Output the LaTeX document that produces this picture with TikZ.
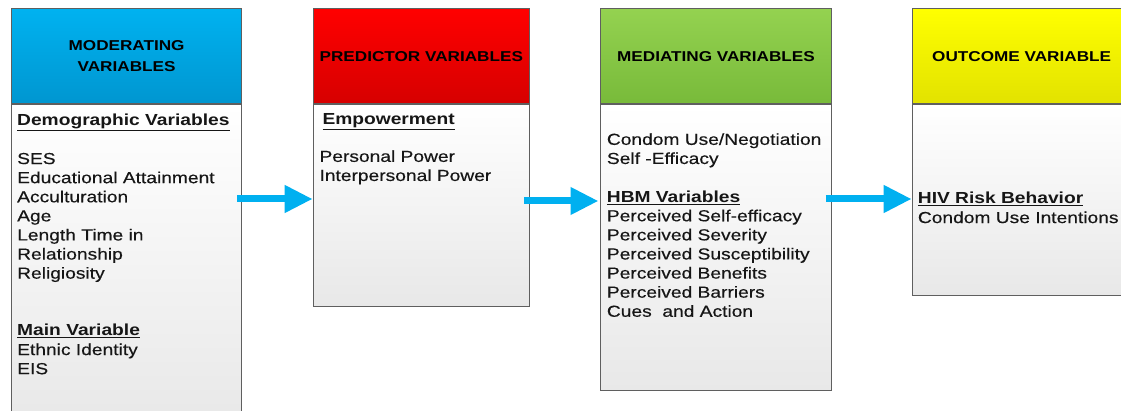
\documentclass[tikz,border=0pt]{standalone}
\usepackage{fontspec}
\setmainfont{Liberation Sans}[FakeStretch=1.2, UprightFeatures={FakeBold=0.35}]
\usetikzlibrary{arrows.meta,calc}
\definecolor{bluetop}{RGB}{0,178,240}
\definecolor{bluebot}{RGB}{0,150,208}
\definecolor{redtop}{RGB}{255,0,0}
\definecolor{redbot}{RGB}{214,0,0}
\definecolor{greentop}{RGB}{148,210,80}
\definecolor{greenbot}{RGB}{120,186,58}
\definecolor{yellowtop}{RGB}{255,255,0}
\definecolor{yellowbot}{RGB}{226,226,0}
\definecolor{bodybot}{RGB}{232,232,232}
\definecolor{bordergray}{RGB}{95,95,95}
\definecolor{arrowblue}{RGB}{0,176,240}
\definecolor{textdark}{RGB}{22,22,22}
\begin{document}
\begin{tikzpicture}[x=1pt,y=-1pt,
  hdr/.style={draw=bordergray, line width=1.2pt, anchor=north west, inner sep=0pt,
    font=\bfseries\fontsize{14.3}{21}\selectfont, align=center, text=black},
  body/.style={draw=bordergray, line width=1.2pt, anchor=north west, inner sep=0pt,
    top color=white, bottom color=bodybot},
  txt/.style={anchor=north west, inner sep=0pt, align=left,
    font=\fontsize{16}{19.1}\selectfont, text=textdark},
  flow/.style={line width=7pt, draw=arrowblue, line cap=butt,
    -{Triangle[length=28pt,width=26pt]}}]
\useasboundingbox (0,0) rectangle (1121,411);
% box 1
\node[body, minimum width=230pt, minimum height=320pt] (b1) at (11,103.5) {};
\node[hdr, top color=bluetop, bottom color=bluebot, minimum width=230pt, minimum height=95.5pt] (h1) at (11,8) {MODERATING\\VARIABLES};
% box 2
\node[body, minimum width=216pt, minimum height=202.5pt] (b2) at (312.7,103.5) {};
\node[hdr, top color=redtop, bottom color=redbot, minimum width=216pt, minimum height=95.5pt] (h2) at (312.7,8) {PREDICTOR VARIABLES};
% box 3
\node[body, minimum width=230.7pt, minimum height=286.5pt] (b3) at (600,103.5) {};
\node[hdr, top color=greentop, bottom color=greenbot, minimum width=230.7pt, minimum height=95.5pt] (h3) at (600,8) {MEDIATING VARIABLES};
% box 4
\node[body, minimum width=218.6pt, minimum height=191.5pt] (b4) at (911.7,103.5) {};
\node[hdr, top color=yellowtop, bottom color=yellowbot, minimum width=218.6pt, minimum height=95.5pt] (h4) at (911.7,8) {OUTCOME VARIABLE};
% texts (first baseline = top + 13.37)
\node[txt] (t1) at (17,112.3) {\strut\underline{\textbf{Demographic Variables}}\\ \mbox{}\\
SES\\ Educational Attainment\\ Acculturation\\ Age\\ Length Time in\\ Relationship\\ Religiosity\\ \mbox{}\\ \mbox{}\\
\underline{\textbf{Main Variable}}\\ Ethnic Identity\\ EIS};
\node[txt] (t2) at (319.3,111.3) {\strut\hspace*{3pt}\underline{\textbf{Empowerment}}\\[-1.2pt] \mbox{}\\ Personal Power\\ Interpersonal Power};
\node[txt] (t3) at (606.7,131.3) {\strut Condom Use/Negotiation\\ Self -Efficacy\\ \mbox{}\\ \underline{\textbf{HBM Variables}}\\
Perceived Self-efficacy\\ Perceived Severity\\ Perceived Susceptibility\\ Perceived Benefits\\ Perceived Barriers\\ Cues~ and Action};
\node[txt] (t4) at (917.7,190.4) {\strut\underline{\textbf{HIV Risk Behavior}}\\ Condom Use Intentions};
% arrows
\draw[flow] ($(b1.north east)+(-5,95.5)$) -- ($(b2.north west)+(0,95.5)$);
\draw[flow] ($(b2.north east)+(-5.7,97.5)$) -- ($(b3.north west)+(-1.5,97.5)$);
\draw[flow] ($(b3.north east)+(-6,95.5)$) -- ($(b4.north west)+(0,95.5)$);
\end{tikzpicture}
\end{document}
